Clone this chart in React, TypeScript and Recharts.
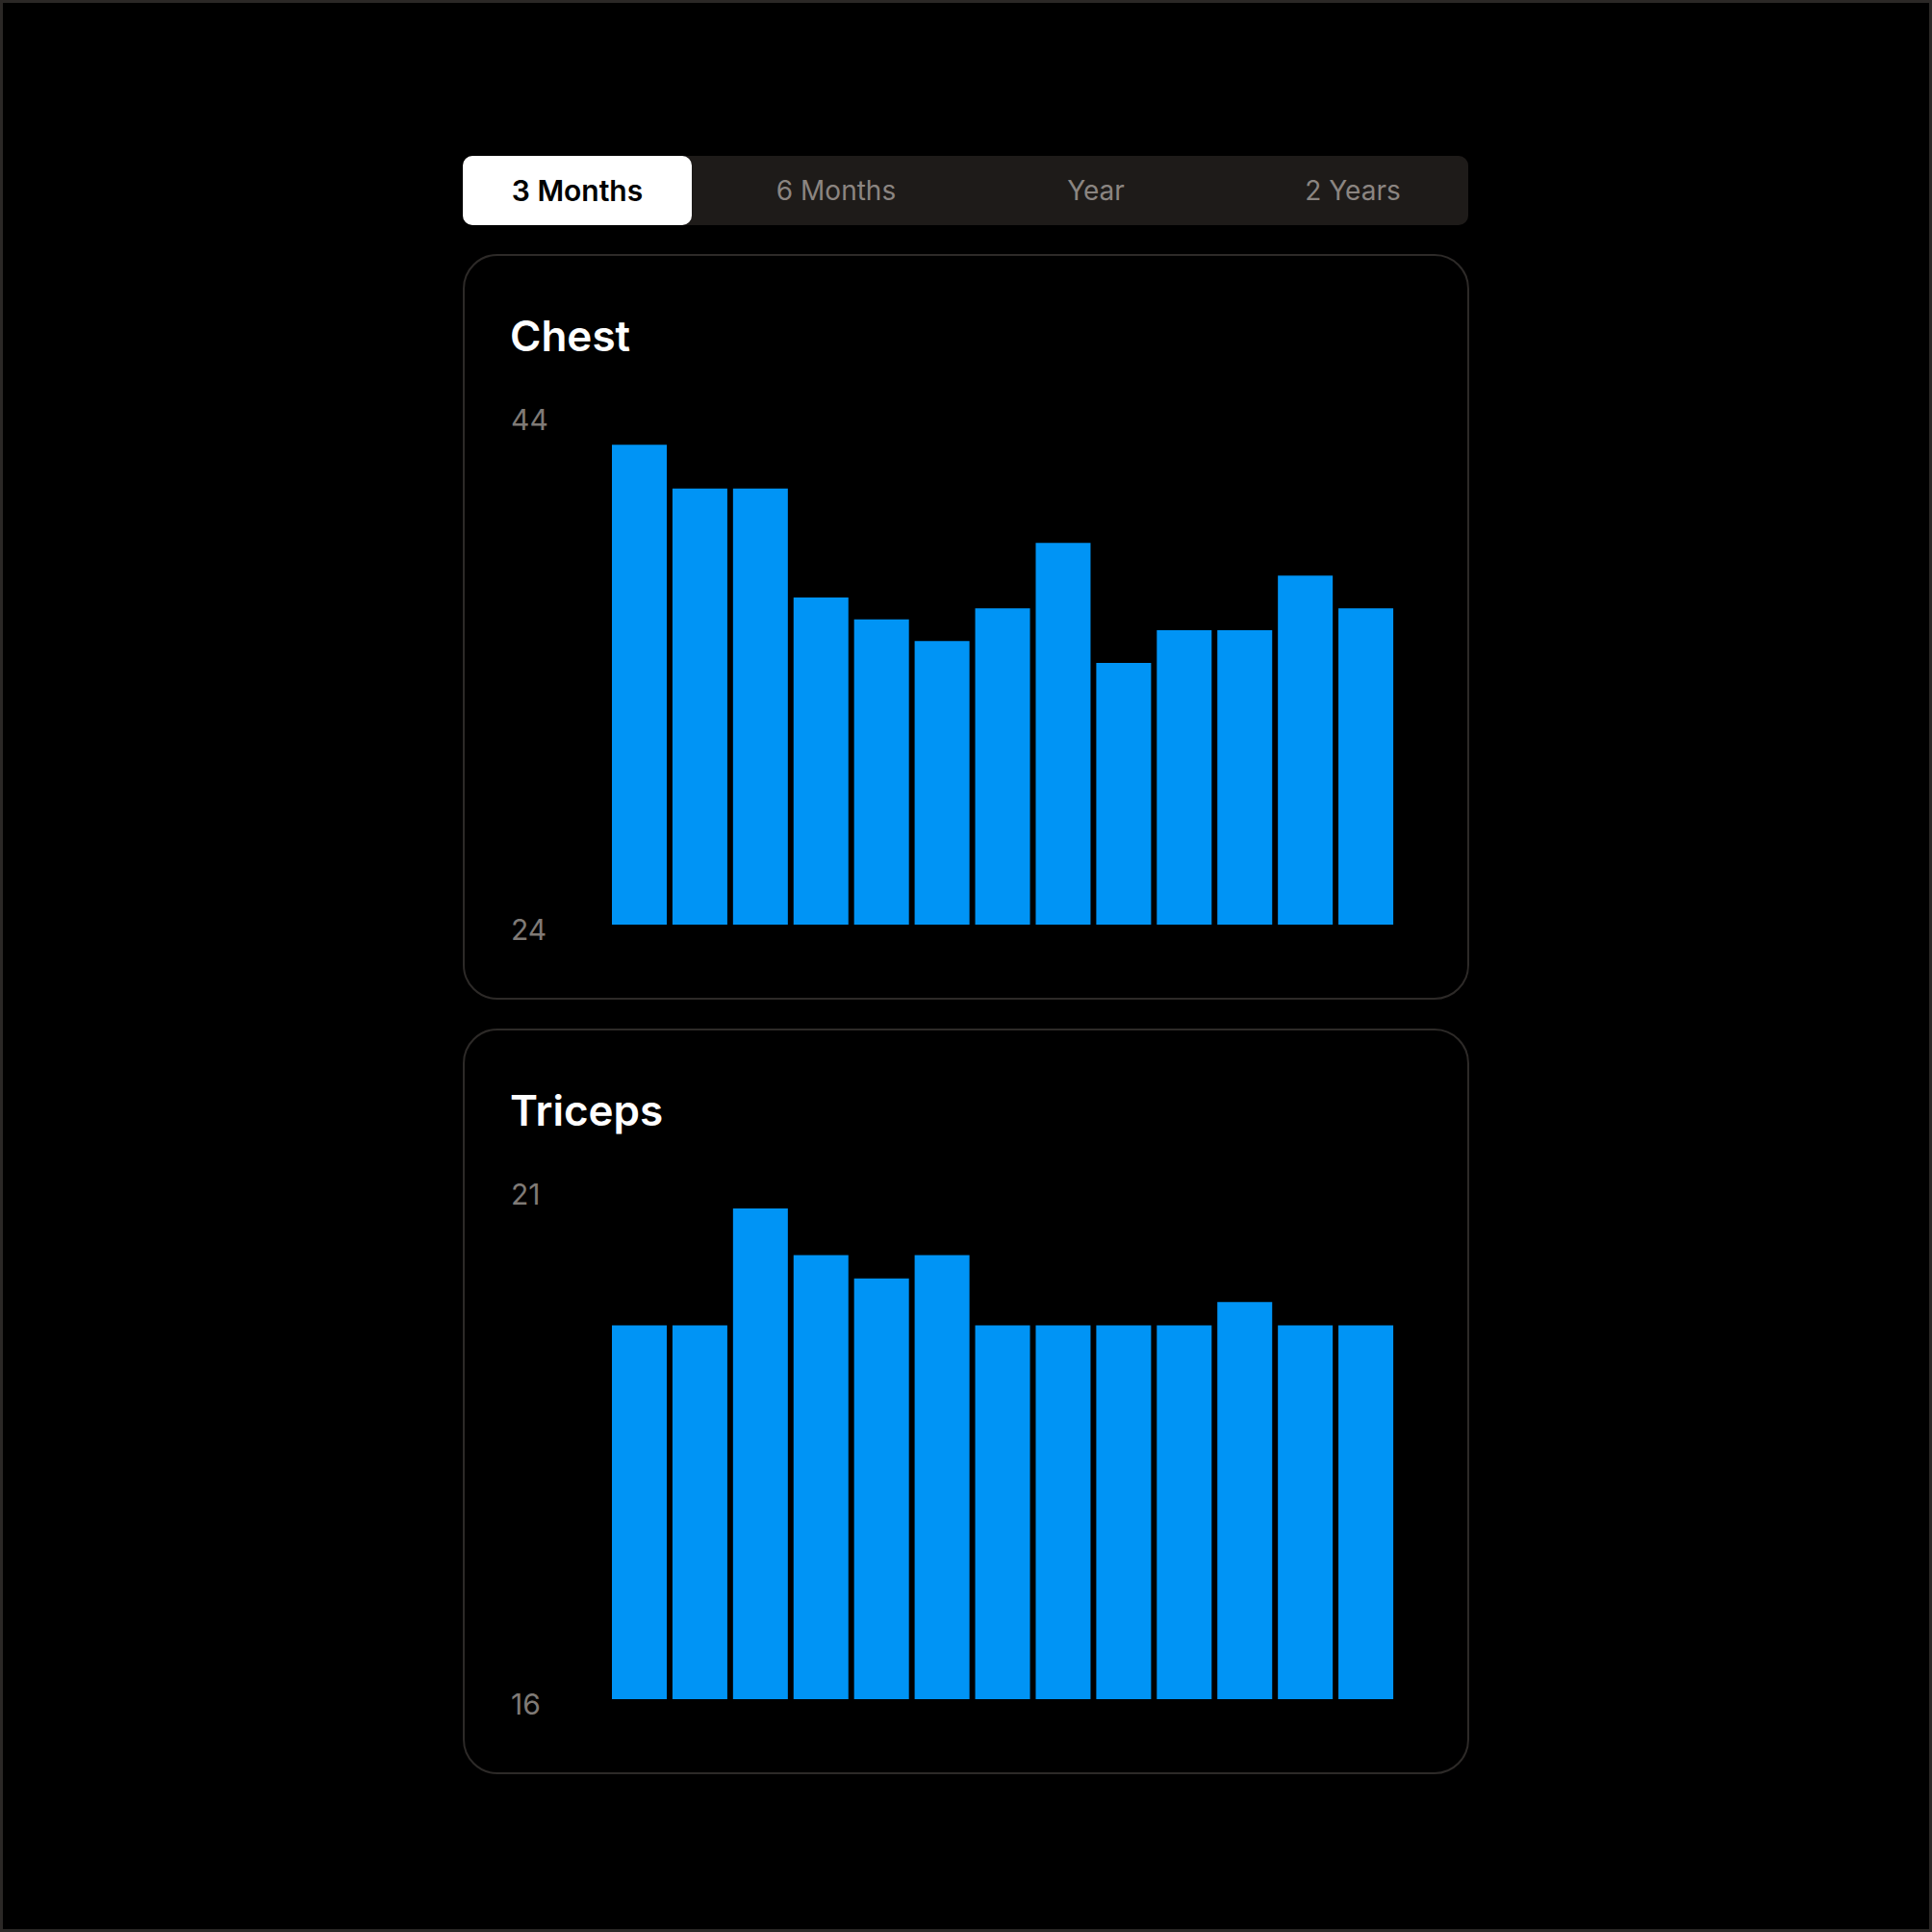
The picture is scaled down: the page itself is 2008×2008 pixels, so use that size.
import React from "react";
import { BarChart, Bar, XAxis, YAxis } from "recharts";

const weeks = ["W1", "W2", "W3", "W4", "W5", "W6", "W7", "W8", "W9", "W10", "W11", "W12", "W13"];
const chestValues = [44, 40, 40, 30, 28, 26, 29, 35, 24, 27, 27, 32, 29];
const tricepsValues = [16, 16, 21, 19, 18, 19, 16, 16, 16, 16, 17, 16, 16];
const chestDomainMax = 45;
const tricepsDomainMax = 21;
const tabLabels = ["3 Months", "6 Months", "Year", "2 Years"];
const tabCenters = [600, 869, 1139, 1406];

const FONT = "Inter, 'Noto Sans', sans-serif";
const BLUE = "#0094F5";

function buildRows(values: number[]) {
  return weeks.map((w, i) => ({ week: w, value: values[i] }));
}

type CardProps = { title: string; values: number[]; domainMax: number; top: number };

function Card({ title, values, domainMax, top }: CardProps) {
  const rows = buildRows(values);
  const maxV = Math.max(...values);
  const minV = Math.min(...values);
  return (
    <>
      <div
        style={{
          position: "absolute",
          left: 481,
          top: top - 1,
          width: 1046,
          height: 775,
          boxSizing: "border-box",
          border: "2px solid #2d2a28",
          borderRadius: 36,
        }}
      />
      <div
        style={{
          position: "absolute",
          left: 530,
          top: top + 62,
          fontFamily: FONT,
          fontSize: 44,
          lineHeight: 1,
          fontWeight: 600,
          color: "#ffffff",
          whiteSpace: "nowrap",
        }}
      >
        {title}
      </div>
      <div
        style={{
          position: "absolute",
          left: 531,
          top: top + 156,
          fontFamily: FONT,
          fontSize: 30,
          lineHeight: 1,
          color: "#7f7a76",
        }}
      >
        {maxV}
      </div>
      <div
        style={{
          position: "absolute",
          left: 531,
          top: top + 686,
          fontFamily: FONT,
          fontSize: 30,
          lineHeight: 1,
          color: "#7f7a76",
        }}
      >
        {minV}
      </div>
      <div style={{ position: "absolute", left: 633, top: top + 186, width: 818, height: 510 }}>
        <BarChart
          width={818}
          height={510}
          data={rows}
          margin={{ top: 0, right: 0, bottom: 0, left: 0 }}
          barCategoryGap={3}
        >
          <XAxis dataKey="week" hide />
          <YAxis hide domain={[0, domainMax]} />
          <Bar dataKey="value" fill={BLUE} isAnimationActive={false} />
        </BarChart>
      </div>
    </>
  );
}

export default function App() {
  return (
    <div
      style={{
        position: "absolute",
        left: 0,
        top: 0,
        width: 2008,
        height: 2008,
        background: "#000",
        boxShadow: "inset 0 0 0 3px #2b2826",
        overflow: "hidden",
      }}
    >
      <div
        style={{
          position: "absolute",
          left: 481,
          top: 162,
          width: 1045,
          height: 72,
          background: "#1e1b19",
          borderRadius: 10,
        }}
      />
      <div
        style={{
          position: "absolute",
          left: 481,
          top: 162,
          width: 238,
          height: 72,
          background: "#ffffff",
          borderRadius: 10,
        }}
      />
      {tabLabels.map((t, i) => (
        <div
          key={t}
          style={{
            position: "absolute",
            left: tabCenters[i] - 120,
            top: 162,
            width: 240,
            height: 72,
            lineHeight: "72px",
            textAlign: "center",
            fontFamily: FONT,
            fontSize: i === 0 ? 30 : 28,
            fontWeight: i === 0 ? 600 : 400,
            color: i === 0 ? "#000000" : "#8b8581",
            whiteSpace: "nowrap",
          }}
        >
          {t}
        </div>
      ))}
      <Card title="Chest" values={chestValues} domainMax={chestDomainMax} top={265} />
      <Card title="Triceps" values={tricepsValues} domainMax={tricepsDomainMax} top={1070} />
    </div>
  );
}
